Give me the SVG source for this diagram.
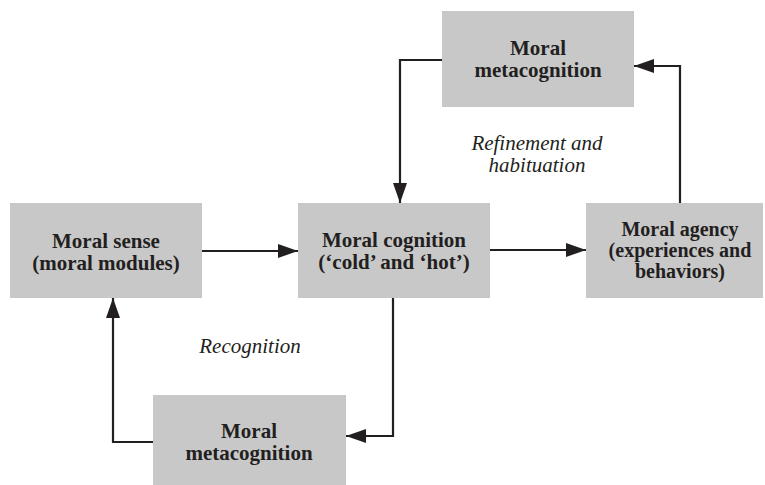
<svg xmlns="http://www.w3.org/2000/svg" width="765" height="485" viewBox="0 0 765 485">
<style>
.box{fill:#c8c8c9}
.t{font-family:"Liberation Serif","Times New Roman",serif;font-weight:bold;font-size:21px;fill:#231f20;text-anchor:middle}
.s{font-size:20px}
.i{font-family:"Liberation Serif","Times New Roman",serif;font-style:italic;font-size:21px;fill:#231f20;text-anchor:middle}
.c{fill:none;stroke:#231f20;stroke-width:2.2}
</style>
<defs>
<marker id="ah2" viewBox="0 0 20 14" refX="20" refY="7" markerWidth="20" markerHeight="14" markerUnits="userSpaceOnUse" orient="auto">
<path d="M0,0 L20,7 L0,14 z" fill="#231f20"/>
</marker>
</defs>
<g id="connectors">
<path class="c" d="M442,60 H400 V203" marker-end="url(#ah2)"/>
<path class="c" d="M680,203 V66 H634" marker-end="url(#ah2)"/>
<path class="c" d="M202,251 H298" marker-end="url(#ah2)"/>
<path class="c" d="M490,250 H586" marker-end="url(#ah2)"/>
<path class="c" d="M393,298 V436 H346" marker-end="url(#ah2)"/>
<path class="c" d="M153,442 H113 V298" marker-end="url(#ah2)"/>
</g>
<g id="top-meta">
<rect class="box" x="442" y="11" width="192" height="96"/>
<text class="t" x="538" y="55">Moral</text>
<text class="t" x="538" y="77">metacognition</text>
</g>
<g id="sense">
<rect class="box" x="10" y="203" width="192" height="95"/>
<text class="t" x="106" y="248">Moral sense</text>
<text class="t" x="106" y="270">(moral modules)</text>
</g>
<g id="cognition">
<rect class="box" x="298" y="203" width="192" height="95"/>
<text class="t" x="394" y="247">Moral cognition</text>
<text class="t" x="394" y="269">(‘cold’ and ‘hot’)</text>
</g>
<g id="agency">
<rect class="box" x="586" y="203" width="177" height="95"/>
<text class="t s" x="680" y="236">Moral agency</text>
<text class="t s" x="680" y="257">(experiences and</text>
<text class="t s" x="680" y="278">behaviors)</text>
</g>
<g id="bottom-meta">
<rect class="box" x="153" y="395" width="193" height="90"/>
<text class="t" x="249" y="438">Moral</text>
<text class="t" x="249" y="460">metacognition</text>
</g>
<g id="labels">
<text class="i" x="537" y="150">Refinement and</text>
<text class="i" x="537" y="172">habituation</text>
<text class="i" x="250" y="353">Recognition</text>
</g>
</svg>
